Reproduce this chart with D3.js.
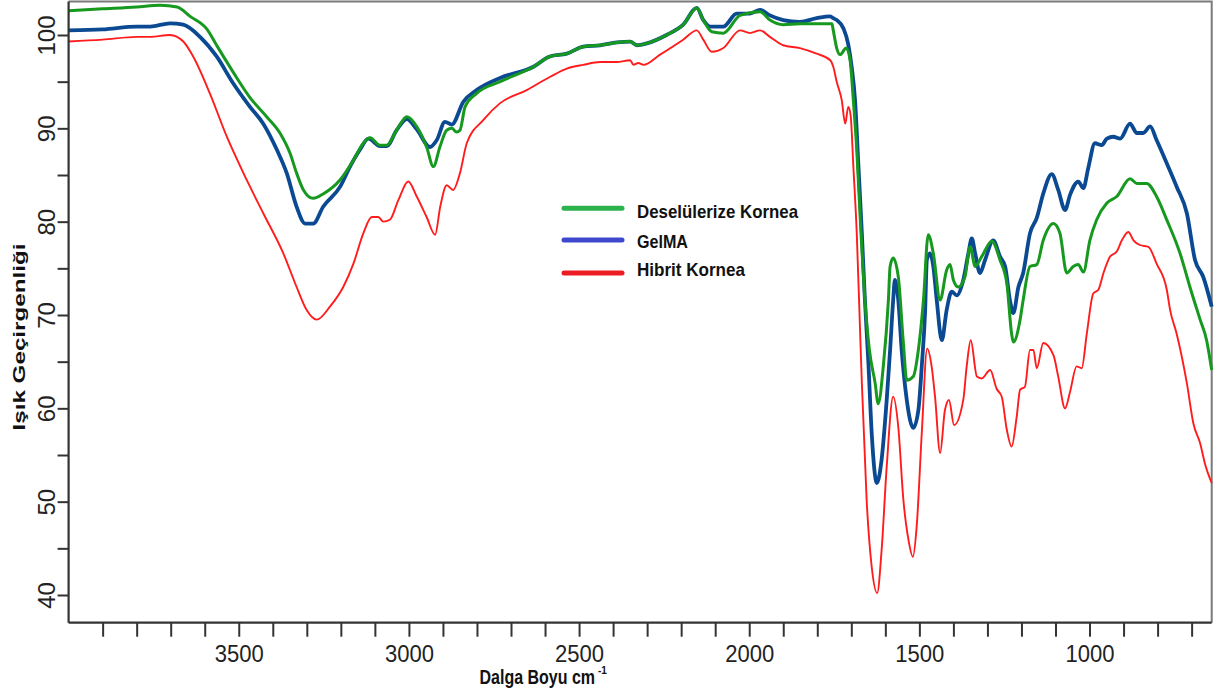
<!DOCTYPE html>
<html>
<head>
<meta charset="utf-8">
<script src="https://cdn.jsdelivr.net/npm/d3@7"></script>
<style>
  html, body { margin: 0; padding: 0; background: #fff; }
  svg { display: block; }
  text { font-family: "Liberation Sans", Arial, sans-serif; }
</style>
</head>
<body>
<svg id="chart" width="1223" height="695"></svg>
<script>
// ---------------- DATA ----------------
const seriesNames = ["Deselülerize Kornea", "GelMA", "Hibrit Kornea"];

const decelWavenumber = [4000,3900,3800,3731,3681,3643,3593,3565,3516,3467,3418,3379,3349,3330,3310,3281,3251,3202,3163,3134,3114,3085,3065,3036,3006,2977,2948,2928,2909,2889,2874,2860,2850,2835,2801,2732,2634,2586,2536,2488,2438,2389,2350,2330,2301,2243,2194,2154,2135,2110,2076,2027,1968,1939,1900,1851,1757,1753,1743,1733,1715,1704,1694,1684,1674,1660,1647,1630,1621,1606,1591,1586,1577,1562,1547,1537,1518,1503,1488,1474,1459,1439,1420,1410,1400,1386,1366,1351,1336,1317,1287,1263,1243,1229,1224,1204,1195,1175,1155,1136,1106,1087,1067,1048,1033,1018,999,979,949,920,881,861,832,803,773,734,705,675,656,641];
const decelTransmittance = [102.6,102.8,103.0,103.2,103.0,102.0,100.6,98.9,96.0,93.3,91.25,89.5,87.3,85.2,83.4,82.5,83.0,84.5,86.6,88.4,89.0,88.2,88.2,89.8,91.25,90.2,88.0,85.9,88.0,89.8,90.0,89.6,89.8,92.3,93.75,95.0,96.6,97.7,98.0,98.75,98.9,99.2,99.3,98.9,99.1,100.0,101.1,102.9,101.6,100.35,100.2,102.1,102.5,101.6,101.1,101.2,101.2,100.5,98.6,97.9,98.6,97.4,93.0,87.7,80.5,71.6,66.3,62.7,60.5,64.5,71.6,75.2,76.1,74.1,67.0,63.0,63.4,66.25,71.6,78.6,76.6,71.6,74.8,75.4,73.75,73.0,74.1,77.3,75.2,76.25,77.9,75.9,73.4,68.0,67.1,69.5,71.6,75.2,75.4,78.0,79.8,78.75,74.5,75.2,75.4,74.6,78.0,80.2,82.0,82.7,84.6,84.1,84.1,82.7,80.2,76.6,73.0,69.5,67.3,64.1];

const gelmaWavenumber = [4000,3900,3800,3760,3702,3663,3614,3565,3516,3467,3428,3388,3359,3330,3305,3281,3252,3202,3173,3144,3119,3085,3065,3036,3006,2977,2938,2918,2894,2874,2840,2801,2732,2634,2586,2536,2488,2438,2389,2350,2330,2301,2243,2194,2154,2135,2115,2076,2037,1998,1968,1939,1900,1851,1802,1762,1753,1743,1723,1709,1699,1689,1679,1669,1660,1650,1640,1625,1611,1596,1586,1577,1572,1562,1552,1537,1518,1503,1493,1483,1478,1469,1459,1449,1434,1420,1405,1390,1371,1356,1346,1336,1322,1307,1283,1263,1248,1234,1224,1209,1195,1175,1155,1136,1111,1092,1072,1057,1033,1018,1004,984,964,949,930,910,881,861,842,822,803,773,744,714,690,666,641];
const gelmaTransmittance = [100.5,100.6,100.9,100.9,101.25,101.1,99.8,97.7,94.8,92.3,90.5,87.7,85.2,81.6,79.8,79.8,81.6,83.75,85.9,87.7,88.9,88.1,88.1,89.8,91.0,89.9,88.0,88.75,90.7,90.4,92.85,94.1,95.4,96.6,97.7,98.0,98.75,98.9,99.2,99.3,98.9,99.1,100.0,101.1,102.9,101.6,100.9,100.9,102.3,102.3,102.7,102.1,101.6,101.4,101.8,102.0,101.8,101.6,100.7,99.0,96.6,93.0,85.9,78.75,71.6,65.0,57.3,52.0,54.5,60.9,66.25,71.6,73.75,71.6,66.25,60.9,57.9,59.8,64.5,70.5,75.9,76.6,75.2,71.6,67.3,70.5,72.5,72.1,73.75,76.6,78.2,76.6,74.5,75.9,78.0,76.25,75.2,71.6,70.2,73.0,74.5,78.75,80.4,83.0,85.1,83.4,81.25,82.9,84.3,83.6,85.7,88.4,88.2,88.9,89.1,88.9,90.5,89.5,89.5,90.2,88.75,86.25,83.75,80.9,75.9,74.1,70.9];

const hybridWavenumber = [4000,3900,3800,3760,3702,3663,3634,3585,3535,3477,3428,3369,3330,3300,3271,3232,3193,3163,3134,3109,3090,3075,3056,3031,3002,2977,2948,2923,2908,2889,2870,2850,2830,2781,2732,2654,2586,2536,2488,2438,2389,2350,2340,2326,2311,2262,2194,2154,2135,2110,2076,2027,1998,1968,1939,1900,1851,1802,1762,1753,1743,1728,1718,1709,1702,1694,1684,1674,1669,1655,1640,1624,1611,1596,1577,1562,1547,1532,1519,1508,1493,1477,1464,1454,1439,1425,1413,1398,1371,1361,1349,1331,1317,1292,1273,1258,1243,1229,1214,1204,1190,1175,1165,1155,1136,1106,1092,1072,1057,1038,1023,1008,989,974,959,940,920,905,886,871,852,827,803,773,763,744,714,695,675,661,641];
const hybridTransmittance = [99.3,99.5,99.8,99.8,100.0,99.3,97.7,93.75,89.1,84.5,80.9,76.6,73.0,70.5,69.5,70.9,73.0,75.5,78.75,80.5,80.5,80.0,80.2,82.3,84.3,82.7,80.5,78.6,81.6,83.9,83.4,85.2,88.4,90.9,92.7,94.1,95.5,96.4,96.8,97.1,97.1,97.3,96.8,97.0,96.8,97.9,99.5,100.5,99.5,98.2,98.6,100.5,100.2,100.5,99.8,98.9,98.6,98.0,97.3,96.6,95.0,93.0,90.5,92.3,91.4,85.9,78.75,68.0,62.7,50.2,43.0,40.2,44.8,53.75,61.25,58.0,50.2,45.9,44.1,47.3,57.3,66.4,64.5,61.25,55.2,59.8,60.9,58.2,60.9,64.5,67.3,63.4,63.2,64.1,62.1,61.25,57.7,55.9,59.1,62.0,62.3,66.25,66.25,64.3,67.0,65.7,63.4,60.0,61.8,64.5,64.3,68.0,72.3,72.7,74.5,76.25,76.8,78.0,78.9,78.0,77.5,77.3,75.5,72.7,70.5,68.0,62.7,58.4,56.25,54.1,52.0];

const xTickValues = d3.range(3900, 600, -100);
const xTickLabels = [3500, 3000, 2500, 2000, 1500, 1000];
const yTickValues = d3.range(40, 101, 5);
const yTickLabels = [40, 50, 60, 70, 80, 90, 100];

const xTitle = "Dalga Boyu cm";
const xTitleSup = "-1";
const yTitle = "Işık Geçirgenliği";

// ---------------- LAYOUT ----------------
const svg = d3.select("#chart");
const pLeft = 68.6, pRight = 1211.7, pTop = 1.5, pBottom = 622.7;

const x = d3.scaleLinear().domain([4000, 641]).range([pLeft, pRight]);
// 100 -> 35px, 40 -> 595px
const yA = d3.scaleLinear().domain([40, 100]).range([595, 35]);
const y = d3.scaleLinear().domain([yA.invert(pBottom), yA.invert(pTop)]).range([pBottom, pTop]);

const lineColors = ["#17991f", "#0b4a92", "#ff1c1c"];
const lineWidths = [3, 3.8, 1.9];
const legendColors = ["#2bb24c", "#3f48cc", "#ed1c24"];

// frame (top & right, gray)
svg.append("path")
  .attr("d", `M${pLeft},${pTop}H${pRight}V${pBottom}`)
  .attr("fill", "none").attr("stroke", "#7a7a7a").attr("stroke-width", 2);

// curves
const series = [
  {wn: decelWavenumber, t: decelTransmittance, i: 0},
  {wn: gelmaWavenumber, t: gelmaTransmittance, i: 1},
  {wn: hybridWavenumber, t: hybridTransmittance, i: 2}
];
const gen = d3.line().x(d => x(d[0])).y(d => y(d[1])).curve(d3.curveMonotoneX);

[series[1], series[0], series[2]].forEach(s => {
  const pts = s.wn.map((w, k) => [w, s.t[k]]);
  svg.append("path")
    .attr("d", gen(pts))
    .attr("fill", "none")
    .attr("stroke", lineColors[s.i])
    .attr("stroke-width", lineWidths[s.i])
    .attr("stroke-linejoin", "round");
});

// x axis
const xAxis = d3.axisBottom(x).tickValues(xTickValues).tickSize(14).tickSizeOuter(0).tickFormat("");
const gx = svg.append("g").attr("transform", `translate(0,${pBottom})`).call(xAxis);
gx.select(".domain").attr("stroke", "#333").attr("stroke-width", 2.2).attr("d", `M${pLeft},0H${pRight}`);
gx.selectAll(".tick line").attr("stroke", "#333").attr("stroke-width", 2);
gx.selectAll(".tick").filter(d => xTickLabels.includes(d))
  .append("text")
  .attr("y", 39.5).attr("text-anchor", "middle")
  .attr("fill", "#222").attr("font-size", 23)
  .attr("textLength", 49).attr("lengthAdjust", "spacingAndGlyphs")
  .text(d => d);

// y axis
const yAxis = d3.axisLeft(y).tickValues(yTickValues).tickSize(11).tickSizeOuter(0).tickFormat("");
const gy = svg.append("g").attr("transform", `translate(${pLeft},0)`).call(yAxis);
gy.select(".domain").attr("stroke", "#333").attr("stroke-width", 2.2).attr("d", `M0,${pTop}V${pBottom}`);
gy.selectAll(".tick line").attr("stroke", "#333").attr("stroke-width", 2);
gy.selectAll(".tick").filter(d => yTickLabels.includes(d))
  .append("text")
  .attr("transform", "translate(-14,0) rotate(-90)")
  .attr("text-anchor", "middle")
  .attr("fill", "#222").attr("font-size", 24)
  .text(d => d);

// axis titles
svg.append("text")
  .attr("transform", "translate(479.5,684) scale(0.8,1)")
  .attr("font-weight", "bold").attr("font-size", 20).attr("fill", "#111")
  .text(xTitle);
svg.append("text")
  .attr("x", 598).attr("y", 674)
  .attr("font-weight", "bold").attr("font-size", 10).attr("fill", "#111")
  .text(xTitleSup);

svg.append("text")
  .attr("transform", "translate(25,337) rotate(-90)")
  .attr("text-anchor", "middle")
  .attr("font-weight", "bold").attr("font-size", 17).attr("fill", "#111")
  .attr("textLength", 187).attr("lengthAdjust", "spacingAndGlyphs")
  .text(yTitle);

// legend
const legendY = [208.3, 240, 273];
const legendBase = [218.3, 248.3, 275.7];
const legendLen = [161, 51, 108];
seriesNames.forEach((name, i) => {
  svg.append("line")
    .attr("x1", 564).attr("x2", 622)
    .attr("y1", legendY[i]).attr("y2", legendY[i])
    .attr("stroke", legendColors[i]).attr("stroke-width", 5)
    .attr("stroke-linecap", "round");
  svg.append("text")
    .attr("x", 637).attr("y", legendBase[i])
    .attr("font-weight", "bold").attr("font-size", 19).attr("fill", "#111")
    .attr("textLength", legendLen[i]).attr("lengthAdjust", "spacingAndGlyphs")
    .text(name);
});
</script>
</body>
</html>
